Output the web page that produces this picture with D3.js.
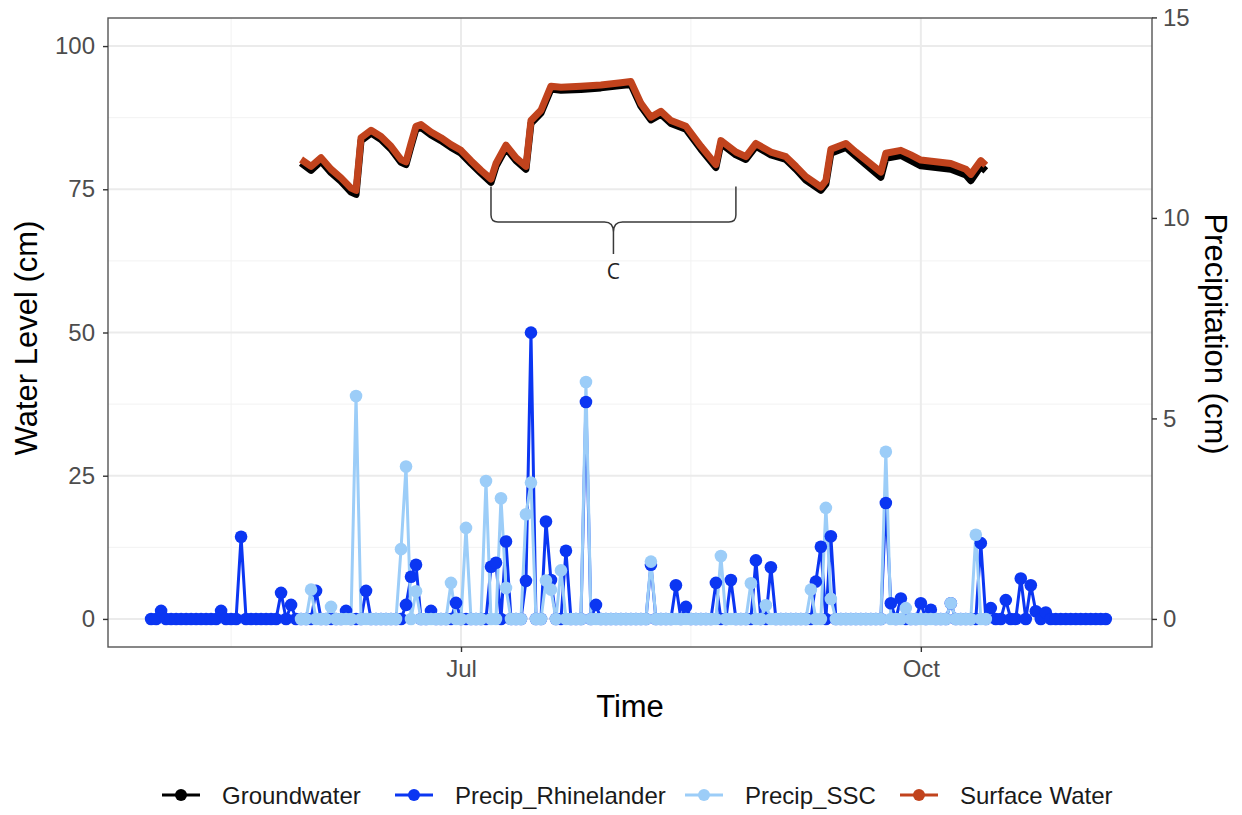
<!DOCTYPE html>
<html>
<head>
<meta charset="utf-8">
<script src="https://cdn.jsdelivr.net/npm/d3@7"></script>
<style>
	body { margin: 0; background: #fff; }
	text { font-family: "Liberation Sans", Arial, sans-serif; }
</style>
</head>
<body>
<div id="chart"></div>
<script>

// ---- data ----

// daily precipitation (cm), Rhinelander station, starting 2019-04-30
var rhineStart = "2019-04-30";
var rhineCm = [
	0, 0, 0.2, 0, 0, 0, 0, 0, 0, 0,
	0, 0, 0, 0, 0.2, 0, 0, 0, 2.05, 0,
	0, 0, 0, 0, 0, 0, 0.65, 0, 0.35, 0,
	0, 0, 0, 0.7, 0, 0, 0, 0, 0, 0.2,
	0, 0, 0, 0.7, 0, 0, 0, 0, 0, 0,
	0, 0.35, 1.05, 1.35, 0, 0, 0.2, 0, 0, 0,
	0, 0.4, 0, 0, 0, 0, 0, 0, 1.3, 1.4,
	0, 1.93, 0, 0, 0, 0.95, 7.14, 0, 0, 2.43,
	0.97, 0, 0, 1.7, 0, 0, 0, 5.41, 0, 0.35,
	0, 0, 0, 0, 0, 0, 0, 0, 0, 0,
	1.35, 0, 0, 0, 0, 0.84, 0, 0.3, 0, 0,
	0, 0, 0, 0.9, 0, 0, 0.97, 0, 0, 0,
	0, 1.46, 0, 0, 1.29, 0, 0, 0, 0, 0,
	0, 0, 0, 0.93, 1.8, 0, 2.06, 0, 0, 0,
	0, 0, 0, 0, 0, 0, 0, 2.89, 0.39, 0,
	0.51, 0, 0, 0, 0.39, 0, 0.23, 0, 0, 0,
	0.39, 0, 0, 0, 0, 0, 1.89, 0, 0.27, 0,
	0, 0.47, 0, 0, 1.01, 0, 0.84, 0.19, 0, 0.16,
	0, 0, 0, 0, 0, 0, 0, 0, 0, 0,
	0, 0
];

// daily precipitation (cm), SSC station, starting 2019-05-30
var sscStart = "2019-05-30";
var sscCm = [
	0, 0, 0.73, 0, 0, 0, 0.3, 0, 0, 0,
	0, 5.56, 0, 0, 0, 0, 0, 0, 0, 0,
	1.74, 3.8, 0, 0.69, 0, 0, 0, 0, 0, 0,
	0.9, 0, 0, 2.27, 0, 0, 0, 3.44, 0, 0,
	3.01, 0.77, 0, 0, 0, 2.61, 3.4, 0, 0, 0.96,
	0.73, 0, 1.21, 0, 0, 0, 0, 5.91, 0, 0,
	0, 0, 0, 0, 0, 0, 0, 0, 0, 0,
	1.43, 0, 0, 0, 0, 0, 0, 0, 0, 0,
	0, 0, 0, 0, 1.57, 0, 0, 0, 0, 0,
	0.89, 0, 0, 0.34, 0, 0, 0, 0, 0, 0,
	0, 0, 0.73, 0, 0, 2.77, 0.5, 0, 0, 0,
	0, 0, 0, 0, 0, 0, 0, 4.17, 0, 0,
	0, 0.27, 0, 0, 0, 0, 0, 0, 0, 0,
	0.39, 0, 0, 0, 0, 2.1, 0, 0
];

// water level (cm) samples
var levelDates = [
	"2019-05-30", "2019-06-01", "2019-06-03", "2019-06-05", "2019-06-07", "2019-06-09",
	"2019-06-10", "2019-06-11", "2019-06-13", "2019-06-15", "2019-06-17", "2019-06-19",
	"2019-06-20", "2019-06-21", "2019-06-22", "2019-06-23", "2019-06-25", "2019-06-27",
	"2019-06-29", "2019-07-01", "2019-07-03", "2019-07-05", "2019-07-07", "2019-07-08",
	"2019-07-10", "2019-07-12", "2019-07-14", "2019-07-15", "2019-07-17", "2019-07-19",
	"2019-07-21", "2019-07-25", "2019-07-29", "2019-08-02", "2019-08-04", "2019-08-06",
	"2019-08-08", "2019-08-10", "2019-08-12", "2019-08-15", "2019-08-18", "2019-08-21",
	"2019-08-22", "2019-08-25", "2019-08-27", "2019-08-29", "2019-09-01", "2019-09-04",
	"2019-09-06", "2019-09-08", "2019-09-11", "2019-09-12", "2019-09-13", "2019-09-16",
	"2019-09-18", "2019-09-20", "2019-09-23", "2019-09-24", "2019-09-27", "2019-09-29",
	"2019-10-01", "2019-10-04", "2019-10-07", "2019-10-10", "2019-10-11", "2019-10-13",
	"2019-10-14"
];
var surfaceLevel = [
	80.2, 79.0, 80.5, 78.5, 77.0, 75.2,
	74.8, 84.0, 85.3, 84.2, 82.5, 80.2,
	79.8, 83.0, 86.0, 86.3, 85.0, 84.0,
	82.8, 81.8, 80.0, 78.3, 76.8, 79.5,
	82.7, 80.5, 79.0, 87.0, 88.8, 93.0,
	92.8, 93.0, 93.2, 93.6, 93.8, 90.0,
	87.6, 88.6, 87.0, 86.0, 82.5, 79.3,
	83.5, 81.5, 80.7, 83.0, 81.5, 80.7,
	79.0, 77.2, 75.4, 76.5, 82.0, 83.0,
	81.5, 80.1, 78.0, 81.3, 81.8, 81.0,
	80.1, 79.8, 79.5, 78.5, 77.6, 80.0,
	79.2
];
var groundLevel = [
	79.6, 78.3, 79.9, 77.9, 76.4, 74.5,
	74.1, 83.5, 84.8, 83.7, 82.0, 79.7,
	79.3, 82.5, 85.5, 85.8, 84.5, 83.5,
	82.3, 81.3, 79.5, 77.8, 76.2, 79.0,
	82.2, 80.0, 78.5, 86.5, 88.3, 92.5,
	92.3, 92.4, 92.7, 93.1, 93.3, 89.5,
	87.1, 88.1, 86.5, 85.5, 82.0, 78.8,
	83.0, 81.0, 80.2, 82.5, 81.0, 80.2,
	78.5, 76.6, 74.8, 75.9, 81.3, 82.3,
	80.8, 79.3, 77.1, 80.4, 80.9, 80.0,
	79.1, 78.8, 78.5, 77.5, 76.5, 79.0,
	78.2
];

var seriesNames = ["Groundwater", "Precip_Rhinelander", "Precip_SSC", "Surface Water"];
var seriesColors = ["#000000", "#0b36f2", "#9ccdf8", "#c1431d"];

var levelTicks = [0, 25, 50, 75, 100];
var levelMinorTicks = [12.5, 37.5, 62.5, 87.5];
var precipTicks = [0, 5, 10, 15];
var monthTicks = ["2019-07-01", "2019-10-01"];
var monthLabels = ["Jul", "Oct"];
var monthMinorTicks = ["2019-05-16", "2019-08-16"];

// bracket annotation "C"
var braceDates = ["2019-07-07", "2019-08-25"];
var braceLevels = { top: 75.5, mid: 69.3, tip: 63.7, label: 59.4 };
var braceLabel = "C";

// precipitation is drawn on the water-level axis at 7x (secondary axis = level / 7)
var precipFactor = 7;


/*
 * LevelPrecipChart - Object constructor function
 */
LevelPrecipChart = function (_parentElement) {
	this.parentElement = _parentElement;
	this.initVis();
}

LevelPrecipChart.prototype.initVis = function () {
	var vis = this;

	vis.margin = { top: 18, right: 90, bottom: 168, left: 108 };
	vis.width = 1242 - vis.margin.left - vis.margin.right;
	vis.height = 815 - vis.margin.top - vis.margin.bottom;

	vis.svg = d3.select("#" + vis.parentElement).append("svg")
		.attr("width", 1242)
		.attr("height", 815)
		.append("g")
		.attr("transform", "translate(" + vis.margin.left + "," + vis.margin.top + ")");

	// Scales
	vis.x = d3.scaleTime()
		.domain([new Date(2019, 3, 21, 9), new Date(2019, 10, 16, 6)])
		.range([0, vis.width]);

	vis.y = d3.scaleLinear()
		.domain([-4.9, 104.9])
		.range([vis.height, 0]);

	vis.yPrecip = d3.scaleLinear()
		.domain(vis.y.domain().map(function (d) { return d / precipFactor; }))
		.range([vis.height, 0]);

	// Wrangle
	vis.rhine = rhineCm.map(function (v, i) {
		return { date: d3.timeDay.offset(parseDate(rhineStart), i), value: v };
	});
	vis.ssc = sscCm.map(function (v, i) {
		return { date: d3.timeDay.offset(parseDate(sscStart), i), value: v };
	});
	vis.surface = levelDates.map(function (d, i) {
		return { date: parseDate(d), value: surfaceLevel[i] };
	});
	vis.ground = levelDates.map(function (d, i) {
		return { date: parseDate(d), value: groundLevel[i] };
	});

	vis.updateVis();
}

LevelPrecipChart.prototype.updateVis = function () {
	var vis = this;

	// grid
	var grid = vis.svg.append("g").attr("class", "grid");

	grid.selectAll(".hminor").data(levelMinorTicks).enter().append("line")
		.attr("x1", 0).attr("x2", vis.width)
		.attr("y1", function (d) { return vis.y(d); })
		.attr("y2", function (d) { return vis.y(d); })
		.attr("stroke", "#f2f2f2").attr("stroke-width", 1);

	grid.selectAll(".vminor").data(monthMinorTicks).enter().append("line")
		.attr("y1", 0).attr("y2", vis.height)
		.attr("x1", function (d) { return vis.x(parseDate(d)); })
		.attr("x2", function (d) { return vis.x(parseDate(d)); })
		.attr("stroke", "#f2f2f2").attr("stroke-width", 1);

	grid.selectAll(".hmajor").data(levelTicks).enter().append("line")
		.attr("x1", 0).attr("x2", vis.width)
		.attr("y1", function (d) { return vis.y(d); })
		.attr("y2", function (d) { return vis.y(d); })
		.attr("stroke", "#ebebeb").attr("stroke-width", 2);

	grid.selectAll(".vmajor").data(monthTicks).enter().append("line")
		.attr("y1", 0).attr("y2", vis.height)
		.attr("x1", function (d) { return vis.x(parseDate(d)); })
		.attr("x2", function (d) { return vis.x(parseDate(d)); })
		.attr("stroke", "#ebebeb").attr("stroke-width", 2);

	// lines
	var levelLine = d3.line()
		.x(function (d) { return vis.x(d.date); })
		.y(function (d) { return vis.y(d.value); });

	var precipLine = d3.line()
		.x(function (d) { return vis.x(d.date); })
		.y(function (d) { return vis.yPrecip(d.value); });

	vis.svg.append("path")
		.datum(vis.ground)
		.attr("d", levelLine)
		.attr("fill", "none")
		.attr("stroke", seriesColors[0])
		.attr("stroke-width", 7)
		.attr("stroke-linejoin", "round");

	vis.svg.append("path")
		.datum(vis.rhine)
		.attr("d", precipLine)
		.attr("fill", "none")
		.attr("stroke", seriesColors[1])
		.attr("stroke-width", 3);

	vis.svg.append("path")
		.datum(vis.ssc)
		.attr("d", precipLine)
		.attr("fill", "none")
		.attr("stroke", seriesColors[2])
		.attr("stroke-width", 3);

	vis.svg.append("path")
		.datum(vis.surface)
		.attr("d", levelLine)
		.attr("fill", "none")
		.attr("stroke", seriesColors[3])
		.attr("stroke-width", 7)
		.attr("stroke-linejoin", "round");

	// points
	vis.svg.selectAll(".pt-rhine").data(vis.rhine).enter().append("circle")
		.attr("class", "pt-rhine")
		.attr("cx", function (d) { return vis.x(d.date); })
		.attr("cy", function (d) { return vis.yPrecip(d.value); })
		.attr("r", 6.3)
		.attr("fill", seriesColors[1]);

	vis.svg.selectAll(".pt-ssc").data(vis.ssc).enter().append("circle")
		.attr("class", "pt-ssc")
		.attr("cx", function (d) { return vis.x(d.date); })
		.attr("cy", function (d) { return vis.yPrecip(d.value); })
		.attr("r", 6.3)
		.attr("fill", seriesColors[2]);

	// bracket annotation
	var bx0 = vis.x(parseDate(braceDates[0])),
		bx1 = vis.x(parseDate(braceDates[1])),
		bxc = (bx0 + bx1) / 2,
		byTop = vis.y(braceLevels.top),
		byMid = vis.y(braceLevels.mid),
		byTip = vis.y(braceLevels.tip);

	var bracePath = d3.path();
	bracePath.moveTo(bx0, byTop);
	bracePath.lineTo(bx0, byMid - 7);
	bracePath.quadraticCurveTo(bx0, byMid, bx0 + 7, byMid);
	bracePath.lineTo(bxc - 9, byMid);
	bracePath.quadraticCurveTo(bxc, byMid, bxc, byMid + 10);
	bracePath.lineTo(bxc, byTip);
	bracePath.moveTo(bx1, byTop);
	bracePath.lineTo(bx1, byMid - 7);
	bracePath.quadraticCurveTo(bx1, byMid, bx1 - 7, byMid);
	bracePath.lineTo(bxc + 9, byMid);
	bracePath.quadraticCurveTo(bxc, byMid, bxc, byMid + 10);

	vis.svg.append("path")
		.attr("d", bracePath.toString())
		.attr("fill", "none")
		.attr("stroke", "#3a3a3a")
		.attr("stroke-width", 1.5);

	vis.svg.append("text")
		.attr("x", bxc)
		.attr("y", vis.y(braceLevels.label))
		.attr("text-anchor", "middle")
		.style("font-family", "'Open Sans', sans-serif")
		.style("font-size", "21px")
		.attr("fill", "#222")
		.text(braceLabel);

	// panel border
	vis.svg.append("rect")
		.attr("width", vis.width)
		.attr("height", vis.height)
		.attr("fill", "none")
		.attr("stroke", "#555")
		.attr("stroke-width", 1.4);

	// axes
	var yAxis = d3.axisLeft(vis.y).tickValues(levelTicks).tickSize(5).tickPadding(8);
	var yAxisRight = d3.axisRight(vis.yPrecip).tickValues(precipTicks).tickSize(5).tickPadding(6);
	var xAxis = d3.axisBottom(vis.x)
		.tickValues(monthTicks.map(parseDate))
		.tickFormat(function (d, i) { return monthLabels[i]; })
		.tickSize(5).tickPadding(8);

	var gy = vis.svg.append("g").attr("class", "y-axis axis").call(yAxis);
	var gyr = vis.svg.append("g").attr("class", "y-axis-right axis")
		.attr("transform", "translate(" + vis.width + ",0)").call(yAxisRight);
	var gx = vis.svg.append("g").attr("class", "x-axis axis")
		.attr("transform", "translate(0," + vis.height + ")").call(xAxis);

	[gy, gyr, gx].forEach(function (g) {
		g.select(".domain").remove();
		g.selectAll(".tick line").attr("stroke", "#333").attr("stroke-width", 1.4);
		g.selectAll(".tick text")
			.attr("fill", "#4d4d4d")
			.style("font-size", "24px");
	});

	// axis titles
	vis.svg.append("text")
		.attr("transform", "translate(" + (37 - vis.margin.left) + "," + (338 - vis.margin.top) + ") rotate(-90)")
		.attr("text-anchor", "middle")
		.style("font-size", "31px")
		.text("Water Level (cm)");

	vis.svg.append("text")
		.attr("transform", "translate(" + (vis.width + 53) + "," + (334 - vis.margin.top) + ") rotate(90)")
		.attr("text-anchor", "middle")
		.style("font-size", "31px")
		.text("Precipitation (cm)");

	vis.svg.append("text")
		.attr("x", vis.width / 2)
		.attr("y", vis.height + 70)
		.attr("text-anchor", "middle")
		.style("font-size", "31px")
		.text("Time");

	// legend
	var legendX = [162, 395, 685, 900];
	var legend = vis.svg.append("g")
		.attr("transform", "translate(" + (-vis.margin.left) + "," + (795 - vis.margin.top) + ")");

	var items = legend.selectAll(".legend-item").data(seriesNames).enter().append("g")
		.attr("class", "legend-item")
		.attr("transform", function (d, i) { return "translate(" + legendX[i] + ",0)"; });

	items.append("line")
		.attr("x1", 0).attr("x2", 38)
		.attr("stroke", function (d, i) { return seriesColors[i]; })
		.attr("stroke-width", 3);

	items.append("circle")
		.attr("cx", 19).attr("r", 6)
		.attr("fill", function (d, i) { return seriesColors[i]; });

	items.append("text")
		.attr("x", 60)
		.attr("y", 9)
		.style("font-size", "24px")
		.attr("fill", "#1a1a1a")
		.text(function (d) { return d; });
}

var parseDate = d3.timeParse("%Y-%m-%d");
var chart = new LevelPrecipChart("chart");

</script>
</body>
</html>
